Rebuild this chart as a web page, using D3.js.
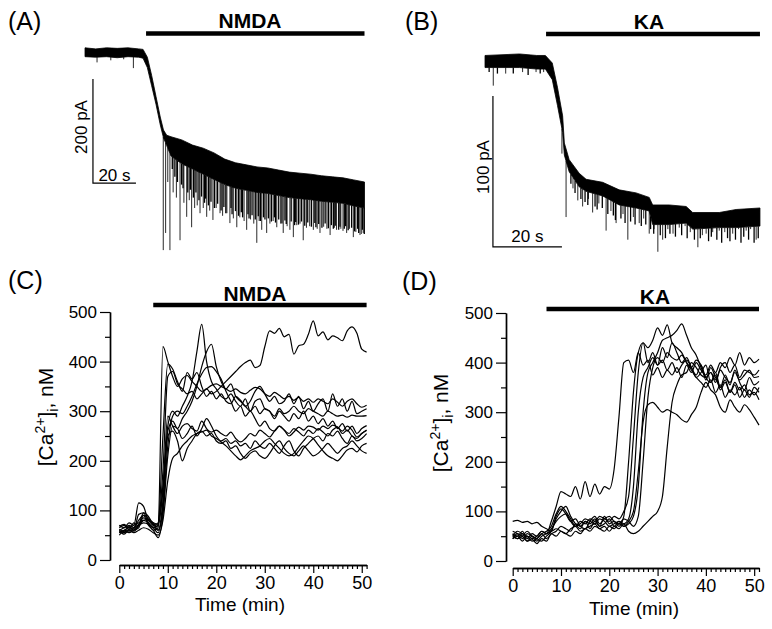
<!DOCTYPE html>
<html><head><meta charset="utf-8">
<script src="https://cdn.jsdelivr.net/npm/d3@7"></script>
<style>
body{margin:0;background:#fff}
svg{display:block}
text{font-family:"Liberation Sans",Arial,Helvetica,sans-serif;fill:#000}
</style>
</head><body>
<svg id="fig" width="772" height="629"></svg>
<script>
// ---------- Panel A: NMDA current trace (time s, current pA) ----------
const traceATime = [0,5,10,15,20,25,27,29,31,33,35,36.5,38,40,45,50,55,60,65,70,75,80,85,90,95,100,105,110,115,120,125,130];
const traceATop  = [8,6,8,7,8,6,5,-10,-45,-85,-125,-150,-160,-163,-169,-179,-185,-194,-206,-213,-217,-221,-223,-227,-231,-233,-235,-238,-240,-242,-246,-250];
const traceABot  = [-9,-10,-9,-11,-9,-10,-12,-30,-65,-100,-140,-165,-180,-200,-215,-225,-235,-245,-255,-262,-266,-270,-272,-276,-280,-282,-284,-287,-289,-291,-296,-300];
const spikeATime = [5.6,12,18,22.5,36.4,37.5,38.5,39.5,41,42.5,44.2,46,47.3,48.5,49.6,51,52.2,53.5,55,56.6,58,59.5,61,62.8,64,66,67.4,69,70.6,72,74,75.2,77,78.5,79.9,81,82.2,84.5,86,87.5,89.2,91,92.2,94,95.3,96.9,98.5,100,101.5,103,104.5,106.2,108,109.3,111,112.5,114,116,117,119,120,121.7,123,124.8,126,127.9,128.5,129.4];
const spikeAAmp  = [-20,-16,-14,-31,-381,-348,-250,-381,-270,-280,-362,-290,-317,-285,-337,-300,-295,-310,-300,-317,-305,-323,-300,-310,-315,-310,-329,-320,-337,-318,-325,-342,-322,-330,-367,-325,-342,-348,-330,-325,-337,-330,-348,-335,-342,-356,-333,-330,-362,-338,-335,-342,-340,-348,-336,-340,-352,-338,-342,-340,-344,-348,-340,-356,-346,-352,-350,-348];
const noiseATime = [40.6,41.8,43,44.9,45.6,47.8,49,50.4,51.6,53,54.2,55.6,56.1,57.4,58.6,60.2,61.7,63.3,64.6,65.5,67.9,68.4,70,71.4,72.7,73.3,75.8,76.3,77.7,79.2,80.6,81.6,83,83.7,85.3,86.7,88.1,88.6,90.1,91.6,93,93.6,95.9,97.5,98,99.3,100.7,102.2,103.6,105.3,106.9,107.4,108.7,110.2,111.7,113.2,114.6,115.5,116.4,118,118.6,120.6,121.2,122.4,124,125.4,126.8,127.3,129,129.9];
const noiseAAmp  = [-225,-240,-250,-255,-262,-270,-265,-280,-270,-285,-278,-290,-282,-295,-288,-300,-292,-305,-298,-310,-300,-312,-306,-315,-308,-318,-312,-320,-314,-322,-316,-325,-318,-322,-320,-326,-318,-328,-322,-330,-324,-331,-326,-333,-327,-332,-326,-334,-328,-336,-329,-337,-331,-338,-330,-339,-333,-340,-334,-342,-336,-340,-335,-343,-338,-345,-340,-348,-342,-350];
const drugA = [28.4, 130];
const scaleBarA = {t: 3.7, i: -52, dt: 20, di: 200};

// ---------- Panel B: KA current trace (time s, current pA) ----------
const traceBTime = [0,10,15,17.5,19.5,21,22.5,23,24.4,27.3,29.3,34.1,38.9,43.8,47.6,48.6,53.4,58.3,60.2,67.9,72.8,79.7];
const traceBTop  = [3,4,3,3,-2,-18,-37,-55,-66,-75,-79,-81,-86,-88,-91,-96,-96,-97,-101,-101,-99,-98];
const traceBBot  = [-5,-5,-6,-6,-13,-30,-48,-63,-74,-84,-87,-90,-96,-98,-100,-109,-109,-108,-112,-111,-111,-110];
const spikeBTime = [2.4,6,10.9,14.8,17,22.3,23.5,25.5,26.9,28.3,30,31.2,33,35.1,36.5,38,40,41.4,43,44.7,46,47.6,49,50.1,51.5,53,54.5,56.3,58,59.5,61.7,63,64.1,66,67.9,69.5,71.8,73.5,75.7,77,78.6];
const spikeBAmp  = [-17,-9,-8,-8,-8,-62,-104,-85,-93,-97,-92,-101,-95,-113,-100,-108,-102,-119,-104,-108,-105,-115,-112,-127,-119,-112,-115,-111,-110,-114,-124,-116,-115,-114,-113,-114,-115,-112,-113,-112,-119];
const noiseBTime = [1.2,3.6,8.2,12.5,16,24.9,26.1,27.8,29,29.8,31.9,32.5,34,35.6,37.2,37.8,39.4,40.6,42.2,43.5,45.3,46.6,48,48.9,50.8,52.3,53.6,55.2,57,58.6,60.7,62.4,64.8,65.6,67.2,68.6,70.3,71,72.6,74.2,75,76.4,78,79.2];
const noiseBAmp  = [-8,-9,-9,-10,-9,-82,-88,-92,-94,-96,-97,-99,-98,-102,-103,-106,-105,-108,-107,-109,-110,-109,-112,-115,-116,-118,-115,-117,-116,-118,-119,-118,-120,-117,-119,-121,-118,-120,-119,-121,-117,-119,-121,-118];
const drugB = [17.7, 79.7];
const scaleBarB = {t: 2.3, i: -23.8, dt: 20, di: 100};

// ---------- Panel C: [Ca2+]i with NMDA (time min, nM) ----------
const timeC = [0,1,2,3,4,5,6,7,8,9,10,11,12,13,14,15,16,17,18,19,20,21,22,23,24,25,26,27,28,29,30,31,32,33,34,35,36,37,38,39,40,41,42,43,44,45,46,47,48,49,50,51];
const nmdaCell1 = [60,65,70,65,72,85,80,70,75,180, 370,380,355,345,335,340,325,335,345,335, 340,350,360,370,380,390,398,403,388,392, 430,462,457,467,450,455,415,432,435,455, 482,452,460,444,452,448,442,462,470,457, 425,419];
const nmdaCell2 = [55,60,65,62,70,75,72,60,65,430, 400,370,350,365,372,360,350,340,345,352, 355,350,345,340,345,338,335,342,348,345, 335,330,338,332,325,330,322,328,320,325, 318,325,320,315,325,318,310,320,325,315, 308,312];
const nmdaCell3 = [65,70,62,75,68,80,75,65,70,250, 395,385,360,340,378,365,378,350,330,340, 325,335,320,315,330,322,310,320,340,350, 335,320,330,315,320,335,315,330,305,320, 300,315,325,300,335,310,325,300,320,295, 300,305];
const nmdaCell4 = [50,58,55,60,65,90,85,70,60,120, 270,300,290,310,330,360,420,475,400,360, 345,330,325,335,320,310,325,300,310,295, 305,300,290,305,295,300,310,300,295,305, 300,295,290,300,295,290,292,288,292,290, 290,291];
const nmdaCell5 = [60,55,62,58,70,95,88,72,68,150, 260,280,265,285,300,320,350,390,420,435, 390,360,345,355,330,320,310,300,320,325, 305,300,285,300,290,280,295,285,300,280, 290,275,285,270,280,265,275,260,270,255, 265,271];
const nmdaCell6 = [70,65,75,70,115,108,80,75,60,100, 230,290,300,295,310,330,355,375,388,390, 380,365,340,320,300,310,290,300,285,270, 280,265,260,270,262,255,265,258,250,262, 255,265,258,250,262,268,255,262,250,245, 255,261];
const nmdaCell7 = [55,60,58,65,80,90,70,60,45,90, 210,270,265,245,255,270,250,265,285,270, 250,240,245,235,240,230,235,225,240,230, 225,235,225,215,230,240,220,210,225,235, 245,250,240,255,250,260,245,235,250,240, 245,255];
const nmdaCell8 = [62,58,68,60,92,95,75,65,55,110, 250,260,240,200,225,240,255,260,250,255, 240,235,240,225,230,215,205,215,220,210, 205,215,230,240,225,215,210,220,230,220, 210,215,225,235,225,215,225,230,240,230, 220,215];
const nmdaCell9 = [58,52,60,55,60,65,62,55,50,80, 160,205,215,230,240,250,255,258,262,250, 245,238,230,220,210,202,210,220,225,230, 240,245,235,225,215,210,215,228,240,250, 245,232,220,210,205,200,210,222,225,218, 230,235];
const nmdaCell10 = [68,72,65,70,75,80,82,75,72,140, 290,270,255,270,275,265,260,280,265,258, 262,255,250,258,245,238,245,255,250,262, 255,248,260,270,262,250,258,268,262,270, 268,262,270,265,272,268,260,270,262,248, 255,262];
const drugC = [7, 51];

// ---------- Panel D: [Ca2+]i with KA (time min, nM) ----------
const timeD = [0,1,2,3,4,5,6,7,8,9,10,11,12,13,14,15,16,17,18,19,20,21,22,23,24,25,26,27,28,29,30,31,32,33,34,35,36,37,38,39,40,41,42,43,44,45,46,47,48,49,50,51];
const kaCell1 = [55,50,60,45,55,50,60,55,80,110, 140,135,130,150,125,160,130,155,135,150, 145,185,290,400,405,380,420,395,405,375, 390,370,385,375,390,370,395,380,400,385, 375,395,380,400,390,410,395,420,395,410, 400,407];
const kaCell2 = [50,45,55,40,50,45,55,60,70,95, 110,100,85,70,80,75,85,80,90,85, 80,90,85,100,130,250,380,440,430,445, 470,455,476,440,430,420,400,385,370,360, 350,365,340,355,330,345,335,350,330,345, 335,350];
const kaCell3 = [45,55,50,40,45,50,60,55,65,80, 90,95,80,70,75,85,80,75,85,80, 70,75,80,70,75,90,150,300,380,400, 420,445,450,455,465,478,455,430,415,390, 370,380,365,385,370,360,380,365,375,385, 370,372];
const kaCell4 = [60,55,45,55,50,45,40,50,60,85, 100,110,90,75,65,80,75,85,70,90, 75,80,70,90,200,340,420,440,400,420, 395,430,410,440,420,400,410,390,375,395, 365,390,370,350,375,355,385,360,345,370, 355,362];
const kaCell5 = [50,60,55,50,40,45,55,45,55,60, 70,65,60,75,70,80,65,80,70,75, 85,70,80,75,85,150,300,370,390,410, 395,405,385,400,380,395,405,390,370,380, 395,360,380,350,365,340,360,345,355,335, 340,325];
const kaCell6 = [45,50,40,50,45,35,45,40,55,50, 60,55,50,60,55,65,60,70,65,60, 70,65,75,70,80,100,180,280,315,320, 310,300,305,300,295,285,280,295,310,340, 360,345,335,310,300,325,310,300,315,305, 290,274];
const kaCell7 = [55,45,50,60,50,40,50,55,60,90, 105,95,80,85,70,65,80,90,75,85, 90,80,75,85,80,70,90,200,330,390, 410,400,420,410,405,415,400,390,405,395, 370,360,375,345,360,340,355,330,345,330, 350,340];
const kaCell8 = [80,82,78,80,75,78,70,65,60,65, 60,55,65,70,60,65,70,75,65,70, 60,70,65,75,60,55,60,70,80,90, 100,130,230,320,355,375,380,400,390,375, 370,380,360,390,400,380,395,370,385,380, 375,385];
const drugD = [7, 51];

// ---------- Axis ticks ----------
const caMajorTicks = [0,100,200,300,400,500];
const caMinorTicks = [50,150,250,350,450];
const timeMajorTicks = [0,10,20,30,40,50];
const timeMinorTicks = [1,2,3,4,5,6,7,8,9,11,12,13,14,15,16,17,18,19,21,22,23,24,25,26,27,28,29,31,32,33,34,35,36,37,38,39,41,42,43,44,45,46,47,48,49,51];

const nmdaSeries = [nmdaCell1,nmdaCell2,nmdaCell3,nmdaCell4,nmdaCell5,nmdaCell6,nmdaCell7,nmdaCell8,nmdaCell9,nmdaCell10];
const kaSeries = [kaCell1,kaCell2,kaCell3,kaCell4,kaCell5,kaCell6,kaCell7,kaCell8];

const svg = d3.select("#fig");
const FONT = '"Liberation Sans",Arial,Helvetica,sans-serif';

function panelLabel(txt, x, y){
  svg.append("text").attr("x",x).attr("y",y).attr("font-size",25).text(txt);
}
function drugBar(x, x0, x1, yBar, label, labelX, labelY){
  svg.append("line").attr("x1",x(x0)).attr("x2",x(x1)).attr("y1",yBar).attr("y2",yBar)
    .attr("stroke","#000").attr("stroke-width",4.6);
  svg.append("text").attr("x",labelX).attr("y",labelY).attr("text-anchor","middle")
    .attr("font-size",21).attr("font-weight","bold").text(label);
}

// ---------- Trace panels ----------
function tracePanel(opts){
  const {x, y, time, top, bot, spT, spA, nzT, nzA, bar, barY, barLabel, barLabelX, sb, sbVLabel, sbVLabelX, sbVLabelY, sbHLabelY} = opts;
  const env = time.map((t,i)=>({t, top: top[i], bot: bot[i]}));
  const area = d3.area().x(d=>x(d.t)).y0(d=>y(d.top)).y1(d=>y(d.bot)).curve(d3.curveLinear);
  const g = svg.append("g");
  const botAt = d3.scaleLinear().domain(time).range(bot);
  g.selectAll("line.sp").data(spT.map((t,i)=>({t, a: spA[i]}))).join("line").attr("class","sp")
    .attr("x1",d=>x(d.t)).attr("x2",d=>x(d.t))
    .attr("y1",d=>y(botAt(d.t))).attr("y2",d=>y(d.a))
    .attr("stroke","#2a2a2a").attr("stroke-width",1);
  g.selectAll("line.nz").data(nzT.map((t,i)=>({t, a: nzA[i]}))).join("line").attr("class","nz")
    .attr("x1",d=>x(d.t)).attr("x2",d=>x(d.t))
    .attr("y1",d=>y(botAt(d.t))).attr("y2",d=>y(d.a))
    .attr("stroke","#000").attr("stroke-width",1.3);
  g.append("path").datum(env).attr("d",area).attr("fill","#000").attr("stroke","#000").attr("stroke-width",0.8);
  drugBar(x, bar[0], bar[1], barY, barLabel, barLabelX, barY-5.5);
  // scale bar
  const sx0 = x(sb.t), sy0 = y(sb.i), sy1 = y(sb.i - sb.di), sx1 = x(sb.t + sb.dt);
  svg.append("path").attr("d",`M${sx0},${sy0}V${sy1}H${sx1}`).attr("fill","none").attr("stroke","#000").attr("stroke-width",1.2);
  svg.append("text").attr("transform",`translate(${sbVLabelX},${sbVLabelY}) rotate(-90)`)
    .attr("text-anchor","middle").attr("font-size",17).text(sbVLabel);
  svg.append("text").attr("x",(sx0+sx1)/2).attr("y",sbHLabelY).attr("text-anchor","middle")
    .attr("font-size",17).text(sb.dt + " s");
}

const xA = d3.scaleLinear().domain([0,130]).range([85,364.5]);
const yA = d3.scaleLinear().domain([0,-200]).range([52,156]);
tracePanel({x:xA, y:yA, time:traceATime, top:traceATop, bot:traceABot, spT:spikeATime, spA:spikeAAmp,
  nzT:noiseATime, nzA:noiseAAmp,
  bar:drugA, barY:33.5, barLabel:"NMDA", barLabelX:250, sb:scaleBarA, sbVLabel:"200 pA",
  sbVLabelX:87, sbVLabelY:127, sbHLabelY:181});

const xB = d3.scaleLinear().domain([0,80]).range([485,761]);
const yB = d3.scaleLinear().domain([0,-100]).range([60,211]);
tracePanel({x:xB, y:yB, time:traceBTime, top:traceBTop, bot:traceBBot, spT:spikeBTime, spA:spikeBAmp,
  nzT:noiseBTime, nzA:noiseBAmp,
  bar:drugB, barY:34, barLabel:"KA", barLabelX:649, sb:scaleBarB, sbVLabel:"100 pA",
  sbVLabelX:489, sbVLabelY:167, sbHLabelY:242});

panelLabel("(A)", 8, 30);
panelLabel("(B)", 405, 30);

// ---------- Calcium panels ----------
function caPanel(opts){
  const {x, y, xAxisY, yAxisX, series, time, drug, barY, barLabel, barLabelX, barLabelY,
         xPad, yLabelX, yLabelY, xTitleX, xTitleY} = opts;
  const ya = svg.append("g").attr("transform",`translate(${yAxisX},0)`)
    .call(d3.axisLeft(y).tickValues(caMajorTicks).tickSize(10).tickSizeOuter(0).tickPadding(3));
  svg.append("g").attr("transform",`translate(${yAxisX},0)`)
    .call(d3.axisLeft(y).tickValues(caMinorTicks).tickSize(5).tickSizeOuter(0).tickFormat(""));
  const xa = svg.append("g").attr("transform",`translate(0,${xAxisY})`)
    .call(d3.axisBottom(x).tickValues(timeMajorTicks).tickSize(8).tickSizeOuter(0).tickPadding(xPad));
  svg.append("g").attr("transform",`translate(0,${xAxisY})`)
    .call(d3.axisBottom(x).tickValues(timeMinorTicks).tickSize(4).tickSizeOuter(0).tickFormat(""));
  ya.selectAll(".tick text").attr("font-size",17);
  xa.selectAll(".tick text").attr("font-size",18);

  const line = d3.line().x((d,i)=>x(time[i])).y(d=>y(d)).curve(d3.curveMonotoneX);
  svg.append("g").selectAll("path").data(series).join("path")
    .attr("d",line).attr("fill","none").attr("stroke","#000").attr("stroke-width",1.2);

  drugBar(x, drug[0], drug[1], barY, barLabel, barLabelX, barLabelY);

  const yl = svg.append("text").attr("transform",`translate(${yLabelX},${yLabelY}) rotate(-90)`)
    .attr("text-anchor","middle").attr("font-size",21);
  yl.append("tspan").text("[Ca");
  yl.append("tspan").attr("font-size",14).attr("dy",-8).text("2+");
  yl.append("tspan").attr("dy",8).text("]");
  yl.append("tspan").attr("font-size",14).attr("dy",5).text("i");
  yl.append("tspan").attr("dy",-5).text(", nM");

  svg.append("text").attr("x",xTitleX).attr("y",xTitleY).attr("text-anchor","middle")
    .attr("font-size",19).text("Time (min)");
}

const xC = d3.scaleLinear().domain([0,51]).range([119.3,366.6]);
const yC = d3.scaleLinear().domain([0,500]).range([560,312]);
caPanel({x:xC, y:yC, xAxisY:565, yAxisX:110, series:nmdaSeries, time:timeC, drug:drugC,
  barY:305, barLabel:"NMDA", barLabelX:255, barLabelY:301, xPad:3,
  yLabelX:53, yLabelY:417, xTitleX:240, xTitleY:611});

const xD = d3.scaleLinear().domain([0,51]).range([512.7,759]);
const yD = d3.scaleLinear().domain([0,500]).range([561,313]);
caPanel({x:xD, y:yD, xAxisY:568, yAxisX:506, series:kaSeries, time:timeD, drug:drugD,
  barY:309, barLabel:"KA", barLabelX:655, barLabelY:303.5, xPad:3,
  yLabelX:448, yLabelY:423, xTitleX:634, xTitleY:615});

svg.selectAll(".domain").attr("stroke-width",1.4);
svg.selectAll(".tick line").attr("stroke-width",1.2);
svg.selectAll("g").attr("font-family",FONT);
svg.selectAll(".tick text").attr("fill","#000");

panelLabel("(C)", 8, 289);
panelLabel("(D)", 402, 290);
</script>
</body></html>
